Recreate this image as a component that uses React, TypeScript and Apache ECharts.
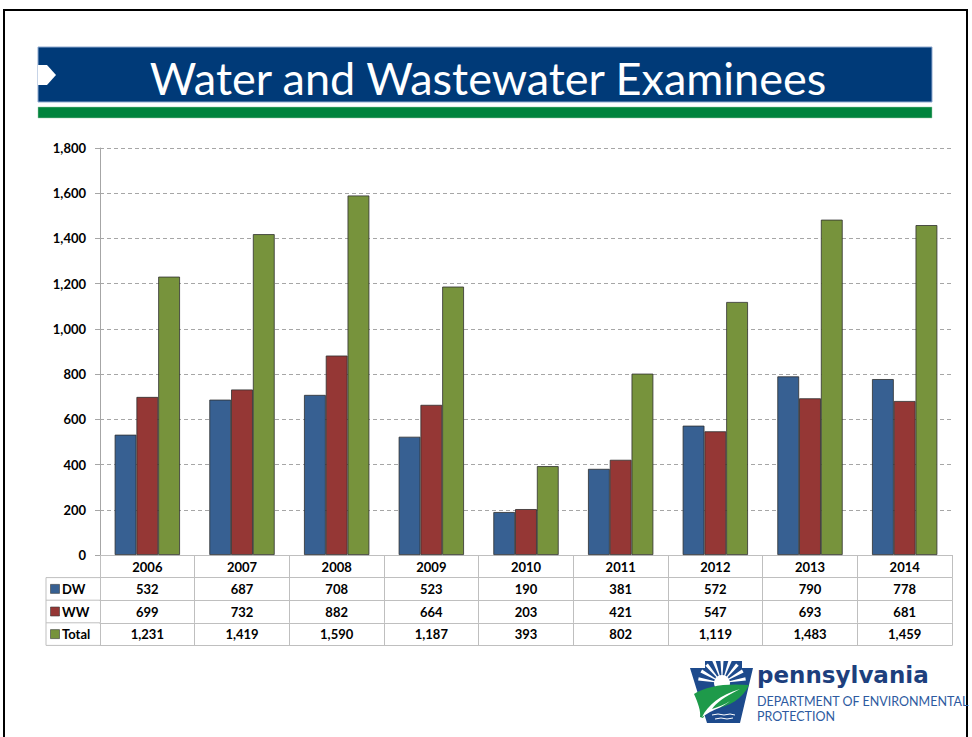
import React, { useEffect, useRef } from "react";
import * as echarts from "echarts";

const years = ["2006", "2007", "2008", "2009", "2010", "2011", "2012", "2013", "2014"];
const dw = [532, 687, 708, 523, 190, 381, 572, 790, 778];
const ww = [699, 732, 882, 664, 203, 421, 547, 693, 681];
const total = [1231, 1419, 1590, 1187, 393, 802, 1119, 1483, 1459];
const seriesNames = ["DW", "WW", "Total"];
const colors = ["#376092", "#953735", "#77933C"];
const yTicks = { min: 0, max: 1800, interval: 200 };
const titleText = "Water and Wastewater Examinees";

const FONT = "Lato, 'Open Sans', sans-serif";
const fmt = (v: number) => v.toLocaleString("en-US");

const GRID_L = 100, GRID_R = 952, GRID_T = 148, GRID_B = 555;
const ROW_H = 22.6;
const TABLE_L = 46;

echarts.graphic.registerShape(
  "paLeaf",
  echarts.graphic.extendPath(
    "M4 33 C 16 25, 36 22, 59 24 C 53 37, 40 46, 22 48 C 18 50, 15 53, 13 57 L 10 56 C 11 50, 8 42, 4 33 Z",
    {}
  )
);
echarts.graphic.registerShape(
  "paVein",
  echarts.graphic.extendPath(
    "M12 56 C 18 44, 30 34, 50 28 C 34 36, 26 42, 22 48 C 28 46, 34 44, 40 40 C 33 46, 26 48, 20 51 Z",
    {}
  )
);

export default function App() {
  const ref = useRef<HTMLDivElement>(null);
  useEffect(() => {
    if (!ref.current) return;
    const chart = echarts.init(ref.current, null, { renderer: "svg" });
    const rowData = [years, dw.map(fmt), ww.map(fmt), total.map(fmt), years.map(() => "")];
    const xAxes = rowData.map((d, i) => ({
      type: "category",
      data: d,
      gridIndex: 0,
      position: "bottom",
      offset: ROW_H * i,
      boundaryGap: true,
      axisLine: { show: true, lineStyle: { color: "#BFBFBF", width: 1 } },
      axisTick: { show: i < 4, length: ROW_H, interval: 0, lineStyle: { color: "#BFBFBF", width: 1 } },
      axisLabel: {
        show: i < 4,
        interval: 0,
        margin: 5,
        color: "#000",
        fontSize: 13,
        fontWeight: "bold",
        fontFamily: FONT,
      },
      splitLine: { show: false },
    }));

    const tableLeft: any[] = [];
    for (let k = 1; k <= 4; k++) {
      tableLeft.push({
        type: "line",
        shape: { x1: TABLE_L, y1: GRID_B + ROW_H * k, x2: GRID_L, y2: GRID_B + ROW_H * k },
        style: { stroke: "#BFBFBF", lineWidth: 1 },
      });
    }
    tableLeft.push({
      type: "line",
      shape: { x1: TABLE_L, y1: GRID_B + ROW_H, x2: TABLE_L, y2: GRID_B + ROW_H * 4 },
      style: { stroke: "#BFBFBF", lineWidth: 1 },
    });
    seriesNames.forEach((name, i) => {
      const cy = GRID_B + ROW_H * (i + 1) + ROW_H / 2;
      tableLeft.push({
        type: "rect",
        shape: { x: TABLE_L + 4.5, y: cy - 4.5, width: 9, height: 9 },
        style: { fill: colors[i], stroke: "#3A3A3A", lineWidth: 0.6 },
      });
      tableLeft.push({
        type: "text",
        x: TABLE_L + 16,
        y: cy,
        style: {
          text: name,
          fill: "#000",
          font: `bold 13px ${FONT}`,
          verticalAlign: "middle",
        },
      });
    });

    const logoX = 690, logoY = 661;
    const sunX = 32, sunY = 22;
    const rays: any[] = [];
    const angles = [-170, -150, -130, -110, -90, -70, -50, -30, -10];
    angles.forEach((a) => {
      const r = (a * Math.PI) / 180;
      const w = 0.07;
      const len = 24;
      rays.push({
        type: "polygon",
        shape: {
          points: [
            [sunX, sunY],
            [sunX + len * Math.cos(r - w), sunY + len * Math.sin(r - w)],
            [sunX + len * Math.cos(r + w), sunY + len * Math.sin(r + w)],
          ],
        },
        style: { fill: "#FFFFFF" },
      });
    });

    const option: any = {
      animation: false,
      backgroundColor: "#FFFFFF",
      grid: { left: GRID_L, right: 972 - GRID_R, top: GRID_T, bottom: 737 - GRID_B, containLabel: false },
      xAxis: xAxes,
      yAxis: {
        type: "value",
        min: yTicks.min,
        max: yTicks.max,
        interval: yTicks.interval,
        axisLine: { show: true, lineStyle: { color: "#A6A6A6" } },
        axisTick: { show: true, length: 5, lineStyle: { color: "#A6A6A6" } },
        axisLabel: {
          formatter: (v: number) => fmt(v),
          color: "#000",
          fontSize: 13,
          fontWeight: "bold",
          fontFamily: FONT,
          margin: 14,
        },
        splitLine: { show: true, lineStyle: { color: "#A6A6A6", type: [4, 3], width: 1 } },
      },
      series: [dw, ww, total].map((d, i) => ({
        name: seriesNames[i],
        type: "bar",
        xAxisIndex: 0,
        data: d,
        barGap: "0%",
        barCategoryGap: "31%",
        itemStyle: { color: colors[i], borderColor: "#2E2E2E", borderWidth: 0.8 },
      })),
      graphic: [
        {
          type: "rect",
          shape: { x: 4, y: 10, width: 963, height: 740 },
          style: { fill: "none", stroke: "#000", lineWidth: 2 },
          silent: true,
        },
        {
          type: "rect",
          shape: { x: 38, y: 47, width: 894, height: 55 },
          style: { fill: "#003A78", stroke: "#8FA9CF", lineWidth: 1 },
        },
        {
          type: "polygon",
          shape: { points: [[38, 65], [47, 65], [56, 75], [47, 85], [38, 85]] },
          style: { fill: "#FFFFFF" },
        },
        {
          type: "text",
          x: 488,
          y: 78,
          style: {
            text: titleText,
            fill: "#FFFFFF",
            font: "normal 45px Lato, sans-serif",
            align: "center",
            verticalAlign: "middle",
          },
        },
        {
          type: "rect",
          shape: { x: 38, y: 107, width: 894, height: 11 },
          style: { fill: "#00843D", stroke: "#9CCBA8", lineWidth: 0.5 },
        },
        ...tableLeft,
        {
          type: "group",
          x: logoX,
          y: logoY,
          children: [
            {
              type: "polygon",
              shape: { points: [[0, 7], [15, 7], [15, 0], [52, 0], [52, 7], [63, 7], [50, 62], [17, 62]] },
              style: { fill: "#1D4A8C" },
            },
            ...rays,
            { type: "circle", shape: { cx: sunX, cy: sunY, r: 8 }, style: { fill: "#FFFFFF" } },
            { type: "paLeaf", style: { fill: "#1E9A4A" } },
            { type: "paVein", style: { fill: "#FFFFFF" } },
            {
              type: "polyline",
              shape: { points: [[22, 54], [28, 53], [34, 54], [40, 53], [45, 54]] },
              style: { stroke: "#FFFFFF", lineWidth: 1, fill: "none" },
            },
            {
              type: "polyline",
              shape: { points: [[25, 58], [31, 57], [37, 58], [43, 57]] },
              style: { stroke: "#FFFFFF", lineWidth: 1, fill: "none" },
            },
          ],
        },
        {
          type: "text",
          x: 757,
          y: 675,
          style: {
            text: "pennsylvania",
            fill: "#1D3F7D",
            font: "bold 23px 'DejaVu Sans', sans-serif",
            verticalAlign: "middle",
          },
        },
        {
          type: "text",
          x: 757,
          y: 701,
          style: {
            text: "DEPARTMENT OF ENVIRONMENTAL",
            fill: "#2D5AA0",
            font: "12.5px Lato, sans-serif",
            verticalAlign: "middle",
          },
        },
        {
          type: "text",
          x: 757,
          y: 716,
          style: {
            text: "PROTECTION",
            fill: "#2D5AA0",
            font: "12.5px Lato, sans-serif",
            verticalAlign: "middle",
          },
        },
      ],
    };
    chart.setOption(option);
    return () => chart.dispose();
  }, []);
  return <div ref={ref} style={{ position: "absolute", left: 0, top: 0, width: 972, height: 737 }} />;
}
